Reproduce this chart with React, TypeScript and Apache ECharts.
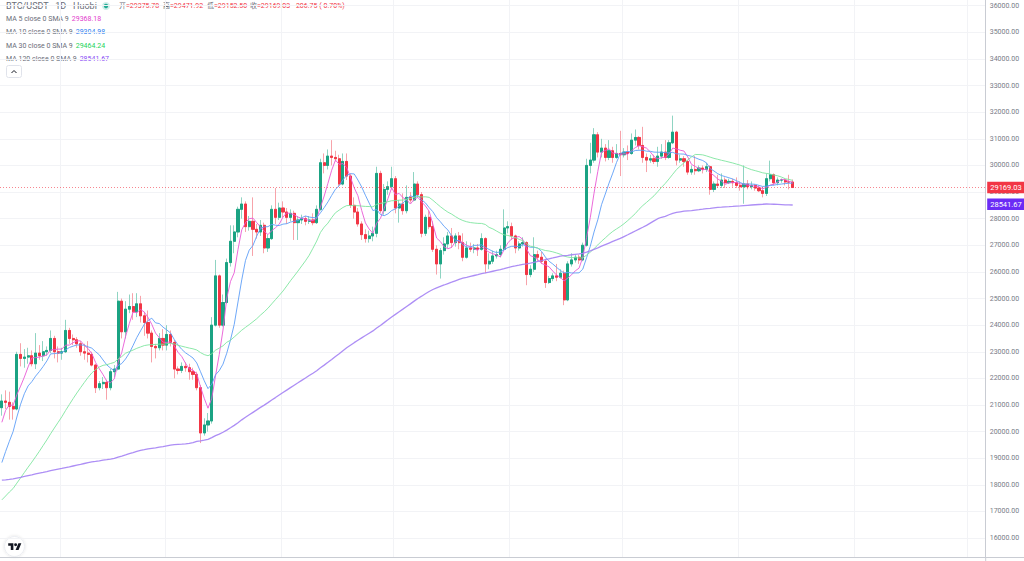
import React, { useEffect, useRef } from "react";
import * as echarts from "echarts";

// ---------------- data ----------------
const startDate = "2023-01-16";
const futureSlots = 51;

// [open, close, low, high]
const candles: number[][] = [
  [20900, 21150, 20600, 21400], [21150, 21100, 20850, 21550], [21100, 20950, 20450, 21500], [20950, 20850, 20450, 21100],
  [20850, 22900, 20800, 23000], [22900, 22750, 22450, 23320], [22750, 22800, 22400, 23100], [22800, 22850, 22550, 23150],
  [22850, 22550, 22450, 23050], [22550, 22950, 22350, 23700], [22950, 22850, 22700, 23250], [22850, 23000, 22650, 23400],
  [23000, 23050, 22850, 23200], [23050, 23500, 22950, 23800], [23500, 23000, 22750, 23600], [23000, 22950, 22600, 23200],
  [22950, 23000, 22700, 23150], [23000, 23800, 22950, 24200], [23800, 23500, 23300, 23900], [23500, 23450, 23250, 23650],
  [23450, 23300, 23150, 23550], [23300, 23000, 22850, 23400], [23000, 22950, 22700, 23300], [22950, 22900, 22600, 23400],
  [22900, 22500, 22450, 23000], [22500, 21650, 21450, 22550], [21650, 21800, 21550, 21900], [21800, 21850, 21600, 22050],
  [21850, 21650, 21200, 21950], [21650, 22250, 21550, 22350], [22250, 22350, 22050, 22500], [22350, 24900, 22300, 25250],
  [24900, 23750, 23500, 25000], [23750, 24600, 23500, 24900], [24600, 24700, 24450, 25150], [24700, 24500, 24200, 25200],
  [24500, 24800, 24300, 25200], [24800, 24350, 24100, 25100], [24350, 24100, 23600, 24500], [24100, 23700, 23500, 24550],
  [23700, 23200, 22600, 23800], [23200, 23150, 22750, 23300], [23150, 23500, 23050, 23700], [23500, 23250, 23050, 23850],
  [23250, 23650, 23050, 24000], [23650, 23350, 23200, 23800], [23350, 22350, 22000, 23450], [22350, 22300, 22150, 22450],
  [22300, 22450, 22200, 22600], [22450, 22400, 22250, 22600], [22400, 22250, 21950, 22550], [22250, 22150, 21950, 22400],
  [22150, 21650, 21550, 22250], [21650, 19950, 19570, 21750], [19950, 20250, 19850, 20500], [20250, 20400, 20000, 20700],
  [20400, 24000, 20300, 24300], [24000, 25850, 23950, 26450], [25850, 24000, 23900, 25900], [24000, 24850, 23950, 25150],
  [24850, 26350, 24800, 26500], [26350, 27150, 26200, 27750], [27150, 27500, 26700, 27750], [27500, 28350, 27300, 28450],
  [28350, 28550, 28000, 28800], [28550, 27700, 27500, 28650], [27700, 27900, 27550, 28100], [27900, 27600, 26600, 28800],
  [27600, 27500, 27250, 27800], [27500, 27750, 27350, 27950], [27750, 26900, 26700, 27850], [26900, 27250, 26750, 27400],
  [27250, 28350, 27200, 28500], [28350, 28050, 27800, 29150], [28050, 28400, 27950, 28600], [28400, 28250, 28050, 28650],
  [28250, 28050, 27800, 28400], [28050, 28200, 27900, 28350], [28200, 27850, 27200, 28300], [27850, 27950, 27200, 28100],
  [27950, 28000, 27800, 28150], [28000, 27900, 27750, 28100], [27900, 27950, 27800, 28100], [27950, 27850, 27750, 28200],
  [27850, 28350, 27800, 28500], [28350, 30100, 28300, 30250], [30100, 30000, 29700, 30450], [30000, 30350, 29850, 30600],
  [30350, 30300, 30000, 30950], [30300, 30250, 30150, 30550], [30250, 29300, 29200, 30400], [29300, 30150, 29250, 30450],
  [30150, 29600, 29450, 30450], [29600, 28500, 28400, 29700], [28500, 28250, 28000, 28800], [28250, 27800, 27700, 28400],
  [27800, 27400, 27200, 27900], [27400, 27250, 27100, 27600], [27250, 27350, 27100, 27550], [27350, 27450, 27150, 27700],
  [27450, 29700, 27300, 29950], [29700, 28300, 28200, 29800], [28300, 29100, 28150, 29300], [29100, 29200, 28900, 29400],
  [29200, 29500, 29100, 29950], [29500, 28400, 28200, 29600], [28400, 28550, 27850, 28700], [28550, 28300, 28150, 28950],
  [28300, 28800, 28200, 29250], [28800, 28700, 28600, 29000], [28700, 29300, 28650, 29750], [29300, 28900, 28800, 29400],
  [28900, 27450, 27300, 29000], [27450, 28050, 27350, 28150], [28050, 27700, 27600, 28300], [27700, 26850, 26750, 27900],
  [26850, 26300, 25900, 27000], [26300, 26800, 25750, 26900], [26800, 27050, 26650, 27300], [27050, 27350, 26900, 27500],
  [27350, 27100, 26900, 27650], [27100, 27350, 26950, 27450], [27350, 27100, 26850, 27500], [27100, 26550, 26400, 27450],
  [26550, 26900, 26500, 27150], [26900, 26850, 26750, 27100], [26850, 26900, 26700, 27050], [26900, 26850, 26600, 27050],
  [26850, 27250, 26800, 27450], [27250, 26300, 25950, 27300], [26300, 26400, 26100, 26700], [26400, 26600, 26300, 26800],
  [26600, 26650, 26500, 26800], [26650, 26850, 26550, 27000], [26850, 27650, 26800, 28350], [27650, 27700, 27450, 27900],
  [27700, 27350, 27200, 27850], [27350, 26900, 26700, 27400], [26900, 27050, 26800, 27150], [27050, 27100, 26950, 27300],
  [27100, 25900, 25500, 27150], [25900, 26100, 25800, 26250], [26100, 26650, 26000, 27300], [26650, 26550, 26400, 26800],
  [26550, 26400, 26300, 26750], [26400, 25600, 25400, 26500], [25600, 25750, 25550, 25850], [25750, 25850, 25650, 25950],
  [25850, 25800, 25650, 26300], [25800, 25950, 25750, 26100], [25950, 24950, 24750, 26050], [24950, 26300, 24900, 26400],
  [26300, 26450, 26200, 26700], [26450, 26550, 26350, 26650], [26550, 26450, 26300, 26650], [26450, 27000, 26400, 27100],
  [27000, 30000, 26950, 30250], [30000, 30200, 29700, 30850], [30200, 31150, 30100, 31400], [31150, 30500, 30300, 31250],
  [30500, 30650, 30300, 31000], [30650, 30300, 30150, 30800], [30300, 30550, 30200, 30950], [30550, 30300, 30100, 30700],
  [30300, 30450, 30250, 30800], [30450, 30400, 29600, 31300], [30400, 30500, 30300, 30650], [30500, 30450, 30200, 30750],
  [30450, 30950, 30400, 31200], [30950, 31050, 30750, 31350], [31050, 30750, 30600, 31100], [30750, 30300, 30100, 31450],
  [30300, 30200, 29750, 30450], [30200, 30250, 30100, 30400], [30250, 30150, 30050, 30400], [30150, 30350, 29950, 30700],
  [30350, 30500, 30250, 30800], [30500, 30300, 30200, 30950], [30300, 30850, 30250, 30950], [30850, 31250, 30800, 31870],
  [31250, 30200, 30000, 31300], [30200, 30250, 30100, 30400], [30250, 30150, 29950, 30350], [30150, 29750, 29650, 30200],
  [29750, 29850, 29650, 30000], [29850, 29800, 29650, 30350], [29800, 29900, 29750, 30000], [29900, 29850, 29700, 30000],
  [29850, 29950, 29750, 30100], [29950, 29100, 28900, 30000], [29100, 29300, 29000, 29400], [29300, 29250, 29150, 29650],
  [29250, 29450, 29150, 29700], [29450, 29350, 29150, 29550], [29350, 29400, 29300, 29500], [29400, 29350, 29200, 29500],
  [29350, 29250, 29150, 29550], [29250, 29200, 29050, 29400], [29200, 29300, 28560, 30000], [29300, 29200, 29100, 29450],
  [29200, 29250, 29100, 29400], [29250, 29150, 29050, 29300], [29150, 29050, 29000, 29250], [29050, 28950, 28800, 29200],
  [28950, 29500, 28850, 29700], [29500, 29650, 29400, 30180], [29650, 29350, 29250, 29700], [29350, 29450, 29250, 29550],
  [29450, 29450, 29350, 29500], [29450, 29380, 29250, 29500], [29380, 29375.78, 29100, 29650], [29375.78, 29169.03, 29152.5, 29471.92],
];

// closes of the 120 days before the first visible candle (feed the moving averages)
const priorCloses: number[] = [
  19420, 19540, 18880, 18490, 19410, 19290, 18920, 18800, 19220, 19080, 19410, 19590, 19420,
  19310, 19060, 19620, 20340, 20160, 19960, 19530, 19420, 19450, 19130, 19060, 19160, 19380, 19180, 19070, 19270,
  19550, 19330, 19120, 19040, 19160, 19200, 19570, 19330, 20090, 20770, 20290, 20600, 20820, 20630, 20490,
  20480, 20150, 20210, 21150, 21300, 20910, 20600, 18540, 15880, 17590, 17040, 16800, 16350, 16620, 16900,
  16660, 16690, 16700, 16640, 16280, 15780, 16190, 16610, 16600, 16520, 16460, 16440, 16220, 16440, 17170,
  16980, 17090, 16890, 17110, 16970, 17090, 16840, 17220, 17130, 17130, 17090, 17210, 17780, 17810, 17360,
  16630, 16780, 16740, 16440, 16900, 16820, 16830, 16780, 16840, 16830, 16920, 16700, 16550, 16630, 16600, 16540,
  16610, 16670, 16670, 16850, 16830, 16950, 16940, 17120, 17180, 17440, 17940, 18850, 19930, 20950, 20870,
];

const maPeriods = [5, 10, 30, 120];
const maLabels = ["MA 5 close 0 SMA 9", "MA 10 close 0 SMA 9", "MA 30 close 0 SMA 9", "MA 120 close 0 SMA 9"];
const maValues = ["29368.18", "29304.98", "29464.24", "28541.67"];
const headerKeys = ["开", "高", "低", "收"];
const headerVals = ["=29375.78", "=29471.92", "=29152.50", "=29169.03"];
const headerChange = "-206.75 (-0.70%)";
const yTicks = [16000, 17000, 18000, 19000, 20000, 21000, 22000, 23000, 24000, 25000, 26000,
  27000, 28000, 29000, 30000, 31000, 32000, 33000, 34000, 35000, 36000];
const lastClose = 29169.03;
const ma120Last = 28541.67;

// ---------------- styles ----------------
const FONT = "Roboto, 'Noto Sans CJK SC', sans-serif";
const UP = "#1ba383";
const DOWN = "#f23645";
const UP_WICK = "#8fd4c2";
const DOWN_WICK = "#f7a3aa";
const MA_LINE = ["#e95ad6", "#5e9ff7", "#7fe6a0", "#a482f4"];
const MA_TEXT = ["#e23ccd", "#2f7ff0", "#22d45a", "#8a4df5"];
const GRAY_TEXT = "#6a6d78";

echarts.graphic.registerShape(
  "tvlogo",
  echarts.graphic.extendPath("M14 22H7V11H0V4h14v18zM28 22h-8l7.5-18h8L28 22zM24 8a4 4 0 1 1-8 0a4 4 0 1 1 8 0z", {})
);

function buildDates(): string[] {
  const out: string[] = [];
  const d0 = new Date(startDate + "T00:00:00Z").getTime();
  for (let i = 0; i < candles.length + futureSlots; i++) {
    out.push(new Date(d0 + i * 86400000).toISOString().slice(0, 10));
  }
  return out;
}

function sma(period: number): number[] {
  const all = priorCloses.concat(candles.map((c) => c[1]));
  const off = priorCloses.length;
  return candles.map((_, i) => {
    const end = off + i;
    let s = 0;
    for (let k = end - period + 1; k <= end; k++) s += all[k];
    return +(s / period).toFixed(2);
  });
}

export default function App() {
  const ref = useRef<HTMLDivElement>(null);
  useEffect(() => {
    if (!ref.current) return;
    const chart = echarts.init(ref.current, null, { renderer: "svg" });
    const dates = buildDates();
    const bodies = candles.map((c) => [c[0], c[1], Math.min(c[0], c[1]), Math.max(c[0], c[1])]);

    const tagLabel = (text: string, bg: string) => ({
      show: true,
      position: "end",
      formatter: text,
      color: "#ffffff",
      backgroundColor: bg,
      padding: [2, 3, 2, 3],
      fontSize: 7.5,
      fontFamily: FONT,
      distance: 1.5,
      opacity: 1,
    });

    const graphic: any[] = [
      { type: "text", x: 6, y: 6, style: { text: "BTC/USDT · 1D · Huobi", fontSize: 9, fontFamily: FONT, fill: GRAY_TEXT, verticalAlign: "middle" } },
      { type: "circle", shape: { cx: 106, cy: 6, r: 4 }, style: { fill: "rgba(34,171,148,0.22)" } },
      { type: "circle", shape: { cx: 106, cy: 6, r: 2.2 }, style: { fill: "#22ab94" } },
      { type: "text", x: 294, y: 6, style: { text: headerChange, fontSize: 7, fontFamily: FONT, fill: DOWN, verticalAlign: "middle" } },
      { type: "rect", shape: { x: 6.5, y: 65.5, width: 15, height: 12, r: 2 }, style: { fill: "#ffffff", stroke: "#e0e3eb", lineWidth: 1 } },
      { type: "polyline", shape: { points: [[11.5, 73], [14, 70.5], [16.5, 73]] }, style: { stroke: "#131722", lineWidth: 1, fill: null } },
      { type: "circle", shape: { cx: 14.5, cy: 546.5, r: 10 }, style: { fill: "#ffffff", stroke: "#eceef2", lineWidth: 1, shadowBlur: 3, shadowColor: "rgba(0,0,0,0.12)" } },
      { type: "tvlogo", x: 8.2, y: 541.8, scaleX: 0.37, scaleY: 0.37, style: { fill: "#131722" } },
      { type: "line", shape: { x1: 986, y1: 557.5, x2: 1024, y2: 557.5 }, style: { stroke: "#c9ccd3", lineWidth: 1 } },
      { type: "line", shape: { x1: 985.7, y1: 557, x2: 985.7, y2: 561 }, style: { stroke: "#c9ccd3", lineWidth: 1 } },
    ];
    const keyX = [119, 163, 207, 250];
    headerKeys.forEach((k, i) => {
      graphic.push({
        type: "text",
        x: keyX[i],
        y: 6,
        style: {
          text: `{k|${k}}{v|${headerVals[i]}}`,
          rich: {
            k: { fontSize: 7, fontFamily: FONT, fill: GRAY_TEXT },
            v: { fontSize: 7, fontFamily: FONT, fill: DOWN },
          },
          verticalAlign: "middle",
        },
      });
    });
    const rowY = [19, 32.3, 45.7, 59];
    maLabels.forEach((t, i) => {
      graphic.push({
        type: "text",
        x: 6,
        y: rowY[i],
        style: {
          text: `{l|${t}}{s| }{v|${maValues[i]}}`,
          rich: {
            l: { fontSize: 7, fontFamily: FONT, fill: GRAY_TEXT },
            s: { fontSize: 7, fontFamily: FONT, width: 3 },
            v: { fontSize: 7, fontFamily: FONT, fill: MA_TEXT[i] },
          },
          verticalAlign: "middle",
        },
      });
    });

    const maSeries = maPeriods.map((p, i) => ({
      name: "MA" + p,
      type: "line",
      data: sma(p),
      showSymbol: false,
      symbol: "none",
      smooth: false,
      z: 4,
      lineStyle: { color: MA_LINE[i], width: p === 120 ? 1.3 : 1, opacity: 0.9 },
      ...(p === 120
        ? {
            markLine: {
              symbol: "none",
              silent: true,
              data: [{ yAxis: ma120Last }],
              lineStyle: { color: "rgba(0,0,0,0)", width: 0 },
              label: tagLabel(ma120Last.toFixed(2), "#6b2cf5"),
            },
          }
        : {}),
    }));

    chart.setOption({
      animation: false,
      backgroundColor: "#ffffff",
      grid: { left: 0, right: 38.3, top: 0, bottom: 4, containLabel: false },
      xAxis: {
        type: "category",
        data: dates,
        boundaryGap: true,
        axisLine: { show: true, lineStyle: { color: "#c9ccd3" } },
        axisTick: { show: false },
        axisLabel: { show: false },
        splitLine: {
          show: true,
          interval: (_i: number, v: string) => v.endsWith("-01"),
          lineStyle: { color: "#f2f3f6" },
        },
      },
      yAxis: {
        type: "value",
        position: "right",
        min: 15290,
        max: 36214,
        axisLine: { show: true, lineStyle: { color: "#c9ccd3" } },
        axisTick: { show: false, customValues: yTicks },
        axisLabel: {
          customValues: yTicks,
          formatter: (v: number) => v.toFixed(2),
          fontSize: 7,
          color: "#787b86",
          margin: 4,
          fontFamily: FONT,
        },
        splitLine: { show: true, lineStyle: { color: "#f2f3f6" } },
      },
      series: [
        {
          name: "wicks",
          type: "candlestick",
          data: candles,
          barWidth: 2.6,
          z: 2,
          itemStyle: { color: UP_WICK, color0: DOWN_WICK, borderColor: UP_WICK, borderColor0: DOWN_WICK, borderWidth: 1 },
        },
        {
          name: "bodies",
          type: "candlestick",
          data: bodies,
          barWidth: 2.6,
          z: 3,
          itemStyle: { color: UP, color0: DOWN, borderColor: UP, borderColor0: DOWN, borderWidth: 1 },
          markLine: {
            symbol: "none",
            silent: true,
            data: [{ yAxis: lastClose }],
            lineStyle: { color: "rgba(242,54,69,0.6)", type: [1, 2], width: 1 },
            label: tagLabel(lastClose.toFixed(2), DOWN),
          },
        },
        ...maSeries,
      ],
      graphic,
    });
    return () => chart.dispose();
  }, []);

  return (
    <div
      ref={ref}
      style={{ position: "fixed", left: 0, top: 0, width: 1024, height: 561, background: "#fff" }}
    />
  );
}
